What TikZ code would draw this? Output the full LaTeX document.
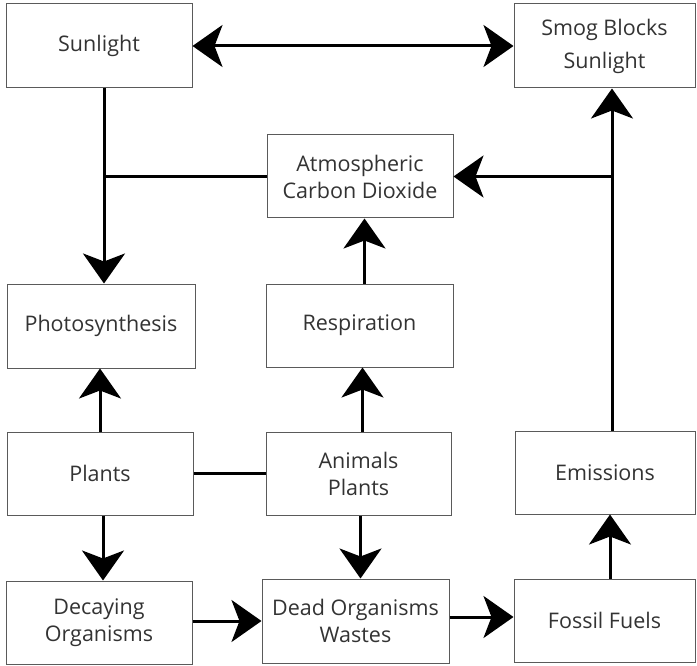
\documentclass[tikz,border=0pt]{standalone}
\usepackage{fontspec}
\setmainfont{Open Sans}
\usetikzlibrary{arrows.meta}
\definecolor{boxline}{HTML}{5A5A5A}
\definecolor{boxtext}{HTML}{333333}
\begin{document}
\begin{tikzpicture}[x=1pt,y=-1pt,
  stagebox/.style={draw=boxline, line width=1pt, fill=white, text=boxtext,
    inner sep=0pt, align=center, anchor=center,
    font=\fontsize{21.5}{27}\selectfont},
  link/.style={line width=3pt, black},
  flow/.style={link, -{Stealth[length=30pt,width=42pt,inset=8pt]}},
  both/.style={link, {Stealth[length=30pt,width=42pt,inset=8pt]}-{Stealth[length=30pt,width=42pt,inset=8pt]}}]
\useasboundingbox (0,0) rectangle (697,666);

% top row
\node[stagebox, minimum width=186pt, minimum height=84pt] (sun) at (99,46) {Sunlight};
\node[stagebox, minimum width=181pt, minimum height=84pt, font=\fontsize{21.5}{33}\selectfont] (smog) at (604.5,46) {Smog Blocks\\Sunlight};
\node[stagebox, minimum width=186pt, minimum height=83pt] (atm) at (360,176.5) {Atmospheric\\Carbon Dioxide};

% processes
\node[stagebox, minimum width=188pt, minimum height=84pt] (photo) at (101,326) {Photosynthesis};
\node[stagebox, minimum width=187pt, minimum height=83pt] (resp) at (359.5,325.5) {Respiration};

% organisms and emissions
\node[stagebox, minimum width=186pt, minimum height=83pt] (plants) at (100,473.5) {Plants};
\node[stagebox, minimum width=185pt, minimum height=83pt] (animals) at (358.5,473.5) {Animals\\Plants};
\node[stagebox, minimum width=180pt, minimum height=83pt] (emis) at (605,472.5) {Emissions};

% bottom row
\node[stagebox, minimum width=186pt, minimum height=83pt] (decay) at (99,622.5) {Decaying\\Organisms};
\node[stagebox, minimum width=187pt, minimum height=84pt] (dead) at (355.5,621) {Dead Organisms\\Wastes};
\node[stagebox, minimum width=181pt, minimum height=83pt] (fossil) at (604.5,620.5) {Fossil Fuels};

% helper points for the off-centre runs
\coordinate (sunfoot) at ([xshift=5pt]sun.south);
\coordinate (emtop) at ([xshift=7pt]emis.north);
\coordinate (plfoot) at ([xshift=3pt]plants.south);
\coordinate (anfoot) at ([xshift=2pt]animals.south);
\coordinate (antop) at ([xshift=4pt]animals.north);
\coordinate (retop) at ([xshift=5pt]resp.north);
\coordinate (fotop) at ([xshift=5.5pt]fossil.north);
\coordinate (deside) at ([yshift=4pt]dead.east);

% connectors
\draw[both] (sun.east) -- (smog.west);
\draw[flow] (sunfoot) -- (sunfoot |- photo.north);
\draw[link] (atm.west) -- (atm.west -| sunfoot);
\draw[flow] (emtop) -- (emtop |- smog.south);
\draw[flow] (emtop |- atm.east) -- (atm.east);
\draw[flow] (retop) -- (retop |- atm.south);
\draw[flow] (antop) -- (antop |- resp.south);
\draw[flow] (plants.north) -- (plants.north |- photo.south);
\draw[link] (plants.east) -- (animals.west);
\draw[flow] (plfoot) -- (plfoot |- decay.north);
\draw[flow] (anfoot) -- (anfoot |- dead.north);
\draw[flow] (decay.east |- dead.west) -- (dead.west);
\draw[flow] (deside) -- (deside -| fossil.west);
\draw[flow] (fotop) -- (fotop |- emis.south);
\end{tikzpicture}
\end{document}
